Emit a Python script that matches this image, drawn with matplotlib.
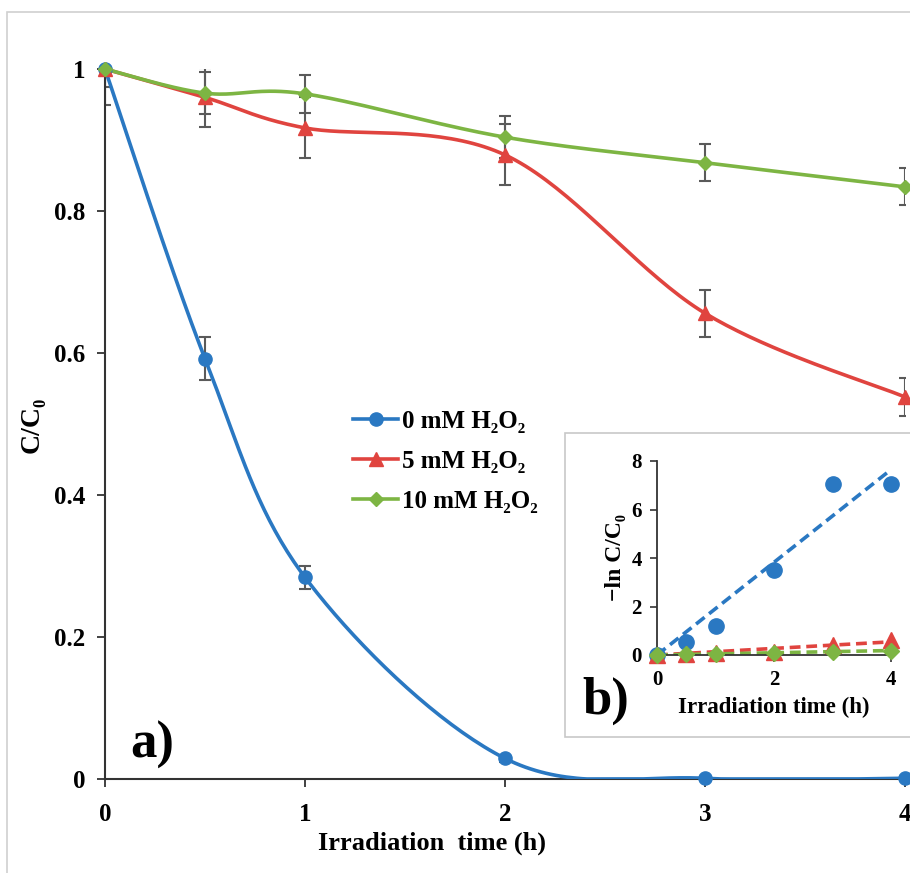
import numpy as np
import matplotlib
matplotlib.use('Agg')
import matplotlib.pyplot as plt
from matplotlib.patches import Rectangle

plt.rcParams['font.family'] = ['Liberation Serif', 'DejaVu Serif']
plt.rcParams['font.weight'] = 'bold'

# data
time_h = [0, 0.5, 1, 2, 3, 4]
c0_mM = [1.0, 0.592, 0.284, 0.029, 0.001, 0.001]
c0_err = [0.0, 0.03, 0.016, 0.005, 0.003, 0.003]
c5_mM = [1.0, 0.960, 0.917, 0.879, 0.656, 0.538]
c5_err = [0.05, 0.042, 0.043, 0.043, 0.033, 0.027]
c10_mM = [1.0, 0.966, 0.965, 0.904, 0.868, 0.834]
c10_err = [0.025, 0.03, 0.027, 0.03, 0.026, 0.026]

# inset: -ln C/C0
ln0 = [0.0, 0.52, 1.2, 3.5, 7.05, 7.05]
ln5 = [0.0, 0.04, 0.09, 0.13, 0.42, 0.62]
ln10 = [0.0, 0.03, 0.04, 0.10, 0.14, 0.18]

labels = ['0 mM H\u2082O\u2082', '5 mM H\u2082O\u2082', '10 mM H\u2082O\u2082']
blue, red, green = '#2a78c2', '#e0443f', '#7db543'
grey = '#5a5a5a'


def smooth(x, y, sx=200.0, sy=711.0, n=40):
    # Catmull-Rom through the points, done in screen-like units (Excel style)
    p = np.column_stack([np.asarray(x) * sx, np.asarray(y) * sy])
    p = np.vstack([p[0], p, p[-1]])
    out = []
    for i in range(1, len(p) - 2):
        p0, p1, p2, p3 = p[i - 1], p[i], p[i + 1], p[i + 2]
        m1 = (p2 - p0) / 2
        m2 = (p3 - p1) / 2
        t = np.linspace(0, 1, n)[:, None]
        h00 = 2 * t**3 - 3 * t**2 + 1
        h10 = t**3 - 2 * t**2 + t
        h01 = -2 * t**3 + 3 * t**2
        h11 = t**3 - t**2
        out.append(h00 * p1 + h10 * m1 + h01 * p2 + h11 * m2)
    out = np.vstack(out)
    return out[:, 0] / sx, np.clip(out[:, 1] / sy, 0, 1)


fig = plt.figure(figsize=(9.1, 8.73), dpi=100)
fig.patches.append(Rectangle((7 / 910, -0.1), 1.2, 1 - 12 / 873 + 0.1,
                             transform=fig.transFigure, fill=False,
                             edgecolor='#d0d0d0', lw=1.2))

ax = fig.add_axes([105 / 910, 1 - 779 / 873, 800 / 910, 710 / 873])
series = [(c0_mM, c0_err, blue, 'o', 9.5), (c5_mM, c5_err, red, '^', 10.5),
          (c10_mM, c10_err, green, 'D', 7)]
handles = []
for (vals, err, col, mk, ms), lab in zip(series, labels):
    ax.errorbar(time_h, vals, yerr=err, fmt='none', ecolor=grey, elinewidth=1.5,
                capsize=4, capthick=1.5, zorder=2)
    xs, ys = smooth(time_h, vals)
    ax.plot(xs, ys, color=col, lw=2.6, zorder=3, solid_capstyle='round')
    ax.plot(time_h, vals, ls='none', marker=mk, ms=ms, color=col, zorder=4,
            clip_on=False)
    h, = ax.plot([], [], color=col, lw=2.6, marker=mk, ms=ms)
    handles.append(h)

ax.set_xlim(0, 4)
ax.set_ylim(0, 1)
ax.set_xticks([0, 1, 2, 3, 4])
ax.set_yticks([0, 0.2, 0.4, 0.6, 0.8, 1])
ax.set_yticklabels(['0', '0.2', '0.4', '0.6', '0.8', '1'])
for s in ['top', 'right']:
    ax.spines[s].set_visible(False)
for s in ['left', 'bottom']:
    ax.spines[s].set_color('#333333')
    ax.spines[s].set_linewidth(1.5)
ax.tick_params(labelsize=18, length=6, width=1.3, color='#333333', pad=8)
ax.tick_params(axis='x', pad=11)
ax.set_xlabel('Irradiation  time (h)', fontsize=19, fontweight='bold')
ax.xaxis.set_label_coords((432 - 105) / 800, -(832 - 779) / 710)
ax.set_ylabel('C/C\u2080', fontsize=20, fontweight='bold')
ax.yaxis.set_label_coords(-(105 - 45) / 800, (779 - 425) / 710)
ax.text(25 / 800, 21 / 710, 'a)', fontsize=38, fontweight='bold', va='baseline',
        transform=ax.transAxes)

ax.legend(handles, labels, loc='upper left', bbox_to_anchor=(353 / 910, 1 - 410 / 873),
          bbox_transform=fig.transFigure, frameon=False, borderpad=0,
          borderaxespad=0, handlelength=1.8, handletextpad=0.15, labelspacing=0.68,
          prop={'weight': 'bold', 'size': 18})

# inset
fig.patches.append(Rectangle((565 / 910, 1 - 737 / 873), 0.6, (737 - 433) / 873,
                             transform=fig.transFigure, facecolor='white',
                             edgecolor='#c8c8c8', lw=1.2, zorder=5))
ins = fig.add_axes([657 / 910, 1 - 655 / 873, 234 / 910, 194 / 873], zorder=6)
ins.patch.set_alpha(0)
for vals, col, mk, ms in [(ln0, blue, 'o', 11), (ln5, red, '^', 11), (ln10, green, 'D', 8)]:
    x = np.array(time_h)
    y = np.array(vals)
    k = np.sum(x * y) / np.sum(x * x)
    ins.plot(time_h, vals, ls='none', marker=mk, ms=ms, color=col, clip_on=False, zorder=3)
    ins.plot([0, 4], [0, 4 * k], ls=(0, (3, 1.6)), color=col, lw=2.6, zorder=2)
ins.set_xlim(0, 4)
ins.set_ylim(0, 8)
ins.set_xticks([0, 2, 4])
ins.set_yticks([0, 2, 4, 6, 8])
for s in ['top', 'right']:
    ins.spines[s].set_visible(False)
for s in ['left', 'bottom']:
    ins.spines[s].set_color('#333333')
    ins.spines[s].set_linewidth(1.3)
ins.tick_params(labelsize=15, length=5, width=1.2, color='#333333', pad=6)
ins.set_xlabel('Irradiation time (h)', fontsize=16.5, fontweight='bold', labelpad=5)
ins.set_ylabel('\u2212ln C/C\u2080', fontsize=17, fontweight='bold', labelpad=4)
fig.text(582 / 910, 1 - 714 / 873, 'b)', fontsize=38, fontweight='bold', zorder=7)

fig.savefig('out.png', dpi=100)
